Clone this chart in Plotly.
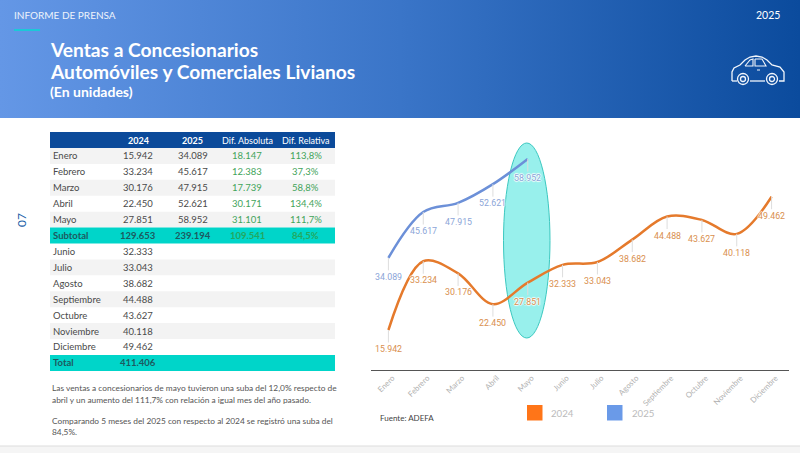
# Ventas a concesionarios - informe de prensa
import plotly.graph_objects as go

meses = ['Enero', 'Febrero', 'Marzo', 'Abril', 'Mayo', 'Junio', 'Julio', 'Agosto',
         'Septiembre', 'Octubre', 'Noviembre', 'Diciembre']
ventas_2024 = [15942, 33234, 30176, 22450, 27851, 32333, 33043, 38682, 44488, 43627, 40118, 49462]
ventas_2025 = [34089, 45617, 47915, 52621, 58952]
dif_absoluta = [18147, 12383, 17739, 30171, 31101]
dif_relativa = ['113,8%', '37,3%', '58,8%', '134,4%', '111,7%']
subtotal = ['Subtotal', '129.653', '239.194', '109.541', '84,5%']
total = ['Total', '411.406']
encabezado = ['', '2024', '2025', 'Dif. Absoluta', 'Dif. Relativa']

NARANJA = '#e57a2c'
AZUL = '#6c90d8'
FUENTE = 'Lato'


def X(px):
    return px / 800


def Y(px):
    return 1 - px / 453


def fmt(v):
    return f'{v:,}'.replace(',', '.')


def texto(x, y, txt, size=9.5, color='#4a4a4a', anchor='left', family=FUENTE, **kw):
    fig.add_annotation(x=X(x), y=Y(y), xref='paper', yref='paper', text=txt, showarrow=False,
                       xanchor=anchor, yanchor='middle', align=anchor, borderpad=0, borderwidth=0,
                       font=dict(size=size, color=color, family=family), **kw)


def rect(x0, y0, x1, y1, color):
    fig.add_shape(type='rect', xref='paper', yref='paper', x0=X(x0), x1=X(x1), y0=Y(y0), y1=Y(y1),
                  fillcolor=color, line_width=0, layer='below')


def trazo(path, width=1.3):
    d = ''
    for i, (a, b) in enumerate(path):
        d += f"{'M' if i == 0 else 'L'} {X(a)} {Y(b)} "
    fig.add_shape(type='path', xref='paper', yref='paper', path=d, line=dict(color='#f2f6fc', width=width))


def rueda(cx, cy, r):
    fig.add_shape(type='circle', xref='paper', yref='paper', x0=X(cx - r), x1=X(cx + r),
                  y0=Y(cy + r), y1=Y(cy - r), line=dict(color='#f2f6fc', width=1.3))


fig = go.Figure()

# Series
fig.add_trace(go.Scatter(x=meses, y=ventas_2024, mode='lines', name='2024',
                         line=dict(color=NARANJA, width=2.5, shape='spline', smoothing=1)))
fig.add_trace(go.Scatter(x=meses[:5], y=ventas_2025, mode='lines', name='2025',
                         line=dict(color=AZUL, width=2.5, shape='spline', smoothing=1)))

# Banda del encabezado con degrade, en ejes propios en pixeles
fig.add_trace(go.Scatter(x=[0, 800, 800, 0], y=[0, 0, 118, 118], xaxis='x2', yaxis='y2', mode='lines',
                         line_width=0, fill='toself', hoverinfo='skip',
                         fillgradient=dict(type='horizontal',
                                           colorscale=[[0, '#6497e6'], [0.5, '#3a75c8'], [1, '#0b4b9d']])))

fig.update_layout(
    width=800, height=453, margin=dict(l=0, r=0, t=0, b=0), showlegend=False,
    paper_bgcolor='white', plot_bgcolor='rgba(0,0,0,0)',
    xaxis=dict(domain=[X(371), X(789)], range=[-0.5, 11.5], type='category', categoryarray=meses,
               tickangle=-45, tickfont=dict(size=7.8, color='#b0b0b0', family=FUENTE), ticklabelshift=4,
               showgrid=False, showline=True, linecolor='#555555', linewidth=1, ticks=''),
    yaxis=dict(domain=[Y(369.5), Y(130)], range=[6008, 66244], visible=False),
    xaxis2=dict(domain=[0, 1], range=[0, 800], visible=False, anchor='y2'),
    yaxis2=dict(domain=[0, 1], range=[453, 0], visible=False, anchor='x2'),
)

# Etiquetas de valores con guia
halo = '1px 0 1px #fff, -1px 0 1px #fff, 0 1px 1px #fff, 0 -1px 1px #fff'
for serie, color in ((ventas_2024, '#d98f4e'), (ventas_2025, '#8ba5d8')):
    for mes, v in zip(meses, serie):
        fig.add_annotation(x=mes, y=v, text=fmt(v), ax=0, ay=19, showarrow=True, arrowhead=0,
                           arrowwidth=1, arrowcolor='#dddddd', standoff=0,
                           font=dict(size=8.8, color=color, family='Roboto', shadow=halo))

# Elipse sobre mayo
fig.add_shape(type='circle', xref='paper', yref='paper', x0=X(503.5), x1=X(550), y0=Y(338), y1=Y(143),
              fillcolor='#98f0ec', line=dict(color='#3cc8c0', width=1), layer='below')

# Textos del encabezado
texto(14, 15, 'INFORME DE PRENSA', size=10, color='#eef3fb')
texto(780, 15, '2025', size=10.5, color='white', anchor='right')
fig.add_shape(type='line', xref='paper', yref='paper', x0=X(14), x1=X(40), y0=Y(30), y1=Y(30),
              line=dict(color='#1cc8d8', width=2))
texto(50, 49.5, '<b>Ventas a Concesionarios</b>', size=19.2, color='white')
texto(50, 71, '<b>Automóviles y Comerciales Livianos</b>', size=19.2, color='white')
texto(50, 91.5, '<b>(En unidades)</b>', size=14, color='white')

# Icono del auto
trazo([(732, 81), (732, 72), (734, 68), (740, 65), (745, 60), (750, 57), (756, 56), (762, 57),
       (767, 60), (772, 65), (780, 67), (784, 72), (784, 81), (779, 81)])
trazo([(750, 81), (765, 81)])
trazo([(737, 81), (732, 81)])
trazo([(745, 66), (750, 60), (753, 59), (753, 66), (745, 66)], width=1.1)
trazo([(755, 59), (762, 59), (766, 66), (755, 66), (755, 59)], width=1.1)
trazo([(757, 70), (760, 70)], width=1)
for cx in (743, 772):
    rueda(cx, 79, 5.5)
    rueda(cx, 79, 2.5)

# Tabla
col_x = [53, 138, 192.5, 247, 305.5]
fila_h = 15.92
fila0 = 148
rect(50, 132, 335, 148, '#0b4a9a')
for x, t in zip(col_x[1:], encabezado[1:]):
    texto(x, 140, f'<b>{t}</b>' if t[0] == '2' else t, size=9, color='white', anchor='center')


def fila_y(i):
    return fila0 + fila_h * i + fila_h / 2


for i, mes in enumerate(meses):
    n = i if i < 5 else i + 1
    if i % 2 == 0:
        rect(50, fila0 + fila_h * n, 335, fila0 + fila_h * (n + 1), '#f3f3f3')
    y = fila_y(n)
    texto(col_x[0], y, mes, size=9.5)
    texto(col_x[1], y, fmt(ventas_2024[i]), size=9.5, anchor='center')
    if i < 5:
        texto(col_x[2], y, fmt(ventas_2025[i]), size=9.5, anchor='center')
        texto(col_x[3], y, fmt(dif_absoluta[i]), size=9.5, color='#3fa45a', anchor='center')
        texto(col_x[4], y, dif_relativa[i], size=9.5, color='#3fa45a', anchor='center')

rect(50, fila0 + fila_h * 5, 335, fila0 + fila_h * 6, '#00d5c9')
y = fila_y(5)
texto(col_x[0], y, f'<b>{subtotal[0]}</b>', size=9.5, color='#1d5a60')
texto(col_x[1], y, f'<b>{subtotal[1]}</b>', size=9.5, color='#1d5a60', anchor='center')
texto(col_x[2], y, f'<b>{subtotal[2]}</b>', size=9.5, color='#1d5a60', anchor='center')
texto(col_x[3], y, f'<b>{subtotal[3]}</b>', size=9.5, color='#22a860', anchor='center')
texto(col_x[4], y, f'<b>{subtotal[4]}</b>', size=9.5, color='#22a860', anchor='center')

rect(50, fila0 + fila_h * 13, 335, fila0 + fila_h * 14, '#00d5c9')
y = fila_y(13)
texto(col_x[0], y, f'<b>{total[0]}</b>', size=9.5, color='#1d5a60')
texto(col_x[1], y, f'<b>{total[1]}</b>', size=9.5, color='#1d5a60', anchor='center')

# Comentario
comentario = [(388, 'Las ventas a concesionarios de mayo tuvieron una suba del 12,0% respecto de'),
              (400, 'abril y un aumento del 111,7% con relación a igual mes del año pasado.'),
              (421, 'Comparando 5 meses del 2025 con respecto al 2024 se registró una suba del'),
              (432, '84,5%.')]
for y, t in comentario:
    texto(52, y, t, size=8.35, color='#555555')

# Margen, fuente y leyenda
texto(21, 220, '07', size=12, color='#1d5fa8', anchor='center', textangle=-90)
texto(380, 418, 'Fuente: ADEFA', size=8, color='#444444')
rect(527, 405, 542.5, 420.5, '#ff7518')
rect(607, 405, 622.5, 420.5, '#6a9ae8')
texto(551, 413, '2024', size=9.7, color='#bbbbbb')
texto(632, 413, '2025', size=9.7, color='#bbbbbb')

# Pie de pagina
rect(0, 446, 800, 453, '#f5f5f5')
fig.add_shape(type='line', xref='paper', yref='paper', x0=0, x1=1, y0=Y(446), y1=Y(446),
              line=dict(color='#dddddd', width=1), layer='below')

fig.write_html('out.html', config={'displayModeBar': False},
               post_script="document.body.style.margin='0';")
